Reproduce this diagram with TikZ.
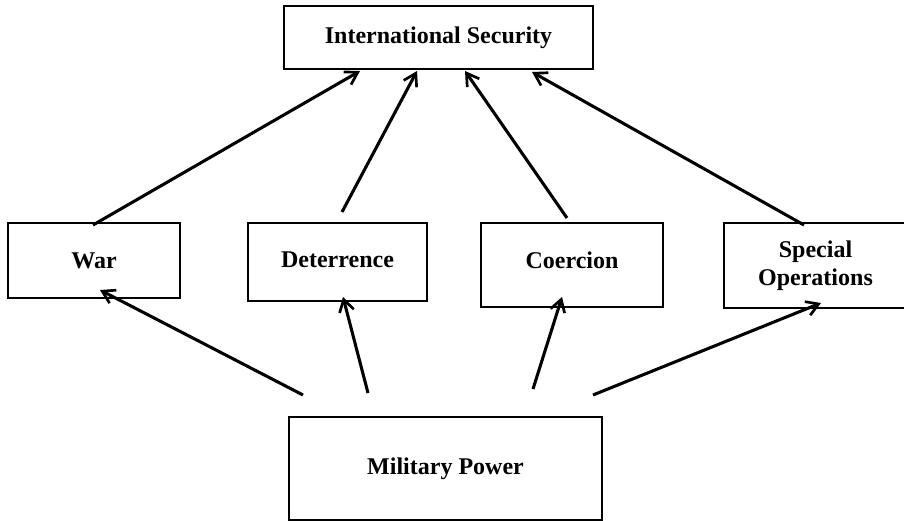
\documentclass[tikz,border=0pt]{standalone}
\usepackage{fontspec}
\setmainfont{Liberation Serif}
\usetikzlibrary{arrows.meta}
\tikzset{
    box/.style={draw, line width=2.2pt, rectangle, align=center, inner sep=0pt,
        font=\fontsize{18}{21}\selectfont\bfseries},
    arr/.style={-{Straight Barb[length=9pt,width=11pt,line width=2pt]}, line width=2.3pt}
}
\begin{document}
\begin{tikzpicture}[x=0.75pt,y=-0.75pt]
    \useasboundingbox (0,0) rectangle (904,521);

    % Top box
    \node[box, minimum width=231.75pt, minimum height=47.25pt] (sec) at (438.5,37.5) {International Security};

    % Middle row
    \node[box, minimum width=129pt, minimum height=56.25pt] (war) at (94,260.5) {War};
    \node[box, minimum width=134.25pt, minimum height=58.5pt, text depth=3pt] (det) at (337.5,262) {Deterrence};
    \node[box, minimum width=136.5pt, minimum height=63pt, text depth=7.5pt] (coe) at (572,265) {Coercion};
    \node[box, minimum width=137.25pt, minimum height=63.75pt] (spec) at (815.5,265.5) {Special\\Operations};

    % Bottom box
    \node[box, minimum width=234.75pt, minimum height=77.25pt] (mil) at (445.5,468.5) {Military Power};

    % Arrow ends
    \coordinate (warUp) at (93,225);
    \coordinate (detUp) at (342,212);
    \coordinate (coeUp) at (567,218);
    \coordinate (specUp) at (804,225);
    \coordinate (secWar) at (360,71);
    \coordinate (secDet) at (417,71);
    \coordinate (secCoe) at (465,71);
    \coordinate (secSpec) at (532,72);

    \coordinate (milWar) at (303,395);
    \coordinate (milDet) at (368,393);
    \coordinate (milCoe) at (533,389);
    \coordinate (milSpec) at (593,395);
    \coordinate (warIn) at (100,290);
    \coordinate (detIn) at (343,297);
    \coordinate (coeIn) at (562,297);
    \coordinate (specIn) at (821,303);

    % Upper arrows
    \draw[arr] (warUp) -- (secWar);
    \draw[arr] (detUp) -- (secDet);
    \draw[arr] (coeUp) -- (secCoe);
    \draw[arr] (specUp) -- (secSpec);

    % Lower arrows
    \draw[arr] (milWar) -- (warIn);
    \draw[arr] (milDet) -- (detIn);
    \draw[arr] (milCoe) -- (coeIn);
    \draw[arr] (milSpec) -- (specIn);
\end{tikzpicture}
\end{document}
